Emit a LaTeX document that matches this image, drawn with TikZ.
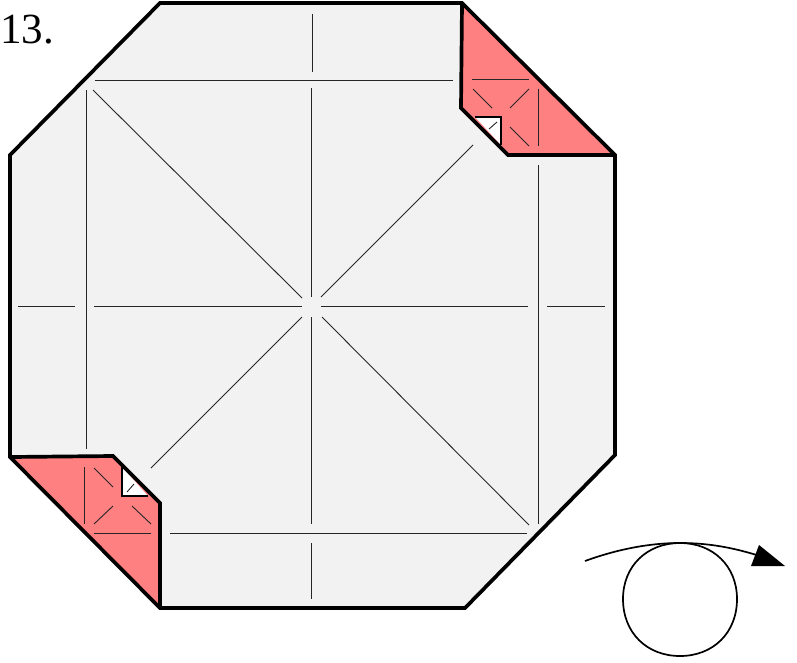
\documentclass[tikz,border=0pt]{standalone}
\usepackage{fontspec}
\setmainfont{Liberation Serif}
\definecolor{paperfill}{HTML}{F2F2F2}
\definecolor{flapfill}{HTML}{FF8080}
\tikzset{
  paper/.style={fill=paperfill,draw=none},
  flap/.style={fill=flapfill,draw=none},
  outline/.style={line width=3.7pt,line join=miter,draw=black},
  crease/.style={line width=0.9pt,draw=black!85},
  thin curve/.style={line width=1.7pt,draw=black},
}
\begin{document}
\begin{tikzpicture}[x=1pt,y=-1pt]
\useasboundingbox (0,0) rectangle (797,662);
% paper
\path[paper] (160,3) -- (462,3) -- (615,155) -- (615,455) -- (465,608) -- (160,608) -- (10,457) -- (10,155) -- cycle;
% main creases
\foreach \a/\b/\c/\d in {
 312/14/312/72, 95/80/453/80, 86/90/86/449, 93/90/302/298, 311/88/311/297,
 321/297/473/145, 18/306/75/306, 94/306/302/306, 321/306/528/306, 547/306/605/306,
 538/165/538/524, 322/317/529/525, 302/317/151/468, 170/533/527/533, 311/543/311/599, 311/317/311/524}
  \draw[crease] (\a,\b) -- (\c,\d);
% flaps
\path[flap] (462,3) -- (615,155) -- (508,155) -- (461,108) -- cycle;
\path[flap] (10,457) -- (113,456) -- (160,503) -- (160,608) -- cycle;
% white triangles
\path[fill=white] (475,117) -- (501,117) -- (501,145) -- cycle;
\path[fill=white] (122,467) -- (122,496) -- (148,496) -- cycle;
% flap creases
\foreach \a/\b/\c/\d in {
 472/79/529/79, 473/89/492/108, 529/89/510/108, 538/89/538/146, 510/127/529/146, 489/129/497/122,
 84/467/84/524, 94/468/113/487, 113/506/94/524, 132/506/151/524, 94/533/151/533, 127/492/134/484}
  \draw[crease] (\a,\b) -- (\c,\d);
% outlines
\draw[outline] (160,3) -- (462,3) -- (615,155) -- (615,455) -- (465,608) -- (160,608) -- (10,457) -- (10,155) -- cycle;
\draw[outline] (462,3) -- (461,108) -- (508,155) -- (615,155);
\draw[outline] (10,457) -- (113,456) -- (160,503) -- (160,608);
\draw[outline,line width=2.8pt] (475,117) -- (501,117) -- (501,145);
\draw[outline,line width=2.8pt] (122,467) -- (122,496) -- (148,496);
% label
\node[anchor=base west,inner sep=0pt,font=\fontsize{43}{43}\selectfont] (stepnum) at (0,43) {13.};
% roll symbol
\draw[thin curve] (680,543) .. controls (713,543) and (737,566) .. (737,599) .. controls (737,633) and (713,656) .. (680,656) .. controls (647,656) and (623,633) .. (623,599) .. controls (623,566) and (647,543) .. (680,543) -- cycle;
\draw[thin curve] (585,561) .. controls (618,549) and (650,543) .. (680,543) .. controls (710,543) and (735,548) .. (763,557);
\path[fill=black] (759,545) -- (785,566) -- (751,566) -- cycle;
\end{tikzpicture}
\end{document}
